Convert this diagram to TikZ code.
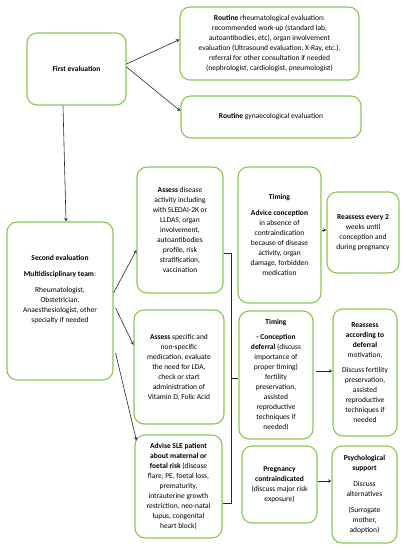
\documentclass[tikz,border=0pt]{standalone}
\usepackage{fontspec}
\setmainfont{Carlito}
\definecolor{boxgreen}{RGB}{140,198,82}
\begin{document}
\begin{tikzpicture}
[x=1pt,y=-1pt,>=stealth,
 box/.style={draw=boxgreen, line width=1.1pt, rounded corners=10pt, fill=white, align=center,
   font=\fontsize{7.5}{10}\selectfont, inner sep=2pt},
 link/.style={->, line width=.6pt, black!85}]
\useasboundingbox (0,0) rectangle (405,550);
% first column
\node[box, minimum width=99pt, minimum height=72pt] (first) at (76.5,69) {\textbf{First evaluation}};
\node[box, minimum width=106pt, minimum height=158pt] (second) at (60,301)
  {\textbf{Second evaluation}\\[6pt]\textbf{Multidisciplinary team}:\\[6pt]Rheumatologist,\\Obstetrician,\\Anaesthesiologist, other\\specialty if needed\\[14pt]};
% routine evaluations
\node[box, minimum width=179pt, minimum height=73pt] (rheum) at (269.5,43.5)
  {\textbf{Routine} rheumatological evaluation:\\recommended work-up (standard lab,\\autoantibodies, etc), organ involvement\\evaluation (Ultrasound evaluation, X-Ray, etc.),\\referral for other consultation if needed\\(nephrologist, cardiologist, pneumologist)};
\node[box, minimum width=180pt, minimum height=42pt] (gyn) at (271,117) {\textbf{Routine} gynaecological evaluation};
% assessments
\node[box, minimum width=86pt, minimum height=126pt] (assessA) at (180,230)
  {\textbf{Assess} disease\\activity including\\with SLEDAI-2K or\\LLDAS, organ\\involvement,\\autoantibodies\\profile, risk\\stratification,\\vaccination};
\node[box, minimum width=90pt, minimum height=114pt] (assessB) at (179,367)
  {\textbf{Assess} specific and\\non-specific\\medication, evaluate\\the need for LDA,\\check or start\\administration of\\Vitamin D, Folic Acid};
\node[box, minimum width=87pt, minimum height=103pt] (advise) at (178.5,486.5)
  {\textbf{Advise SLE patient}\\\textbf{about maternal or}\\\textbf{foetal risk} (disease\\flare, PE, foetal loss,\\prematurity,\\intrauterine growth\\restriction, neo-natal\\lupus, congenital\\heart block)};
% timing
\node[box, minimum width=83pt, minimum height=136pt] (timing1) at (279.5,235)
  {\textbf{Timing}\\[6pt]\textbf{Advice conception}\\in absence of\\contraindication\\because of disease\\activity, organ\\damage, forbidden\\medication};
\node[box, minimum width=74pt, minimum height=128pt] (timing2) at (276,375)
  {\textbf{Timing}\\[5pt]\textbf{- Conception}\\\textbf{deferral} (discuss\\importance of\\proper timing)\\fertility\\preservation,\\assisted\\reproductive\\techniques if\\needed)};
\node[box, minimum width=75pt, minimum height=77pt] (preg) at (279.5,484.5)
  {\textbf{Pregnancy}\\\textbf{contraindicated}\\(discuss major risk\\exposure)};
% follow up
\node[box, minimum width=72pt, minimum height=81pt] (reass1) at (363,232.5)
  {\textbf{Reassess every 2}\\weeks until\\conception and\\during pregnancy};
\node[box, minimum width=64pt, minimum height=127pt] (reass2) at (365,372.5)
  {\textbf{Reassess}\\\textbf{according to}\\\textbf{deferral}\\motivation,\\[5pt]Discuss fertility\\preservation,\\assisted\\reproductive\\techniques if\\needed};
\node[box, minimum width=65pt, minimum height=97pt] (psych) at (364.5,494.5)
  {\textbf{Psychological}\\\textbf{support}\\[6pt]Discuss\\alternatives\\[6pt](Surrogate\\mother,\\adoption)};
% connectors
\draw[link] ([yshift=5pt]first.east) -- ([yshift=4pt]rheum.west);
\draw[link] ([yshift=2pt]first.east) -- ([yshift=6pt]gyn.west);
\draw[link] ([xshift=-13.5pt]first.south) -- ([xshift=6pt]second.north);
\draw[link] ([yshift=8pt]second.east) -- ([yshift=-20pt]assessA.west);
\draw[link] ([xshift=2pt,yshift=-7pt]second.east) -- ([yshift=22pt]assessB.west);
\draw[link] ([xshift=2pt,yshift=-52pt]second.east) -- ([xshift=2pt,yshift=46pt]advise.west);
\draw[line width=.6pt, black!85] ([yshift=-23pt]assessA.east) -- ++(8,0) |- ([yshift=-16.5pt]advise.east);
\coordinate (tick) at (231,378);
\draw[line width=.8pt, black!85] (tick) -- (tick -| timing2.west);
\draw[link] ([yshift=5pt]timing1.east) -- ([yshift=5pt]timing1.east -| reass1.west);
\draw[link] ([xshift=2pt,yshift=4pt]timing2.east) -- ([yshift=4pt]timing2.east -| reass2.west);
\draw[link] ([yshift=3.5pt]preg.east) -- ([yshift=3.5pt]preg.east -| psych.west);
\end{tikzpicture}
\end{document}
